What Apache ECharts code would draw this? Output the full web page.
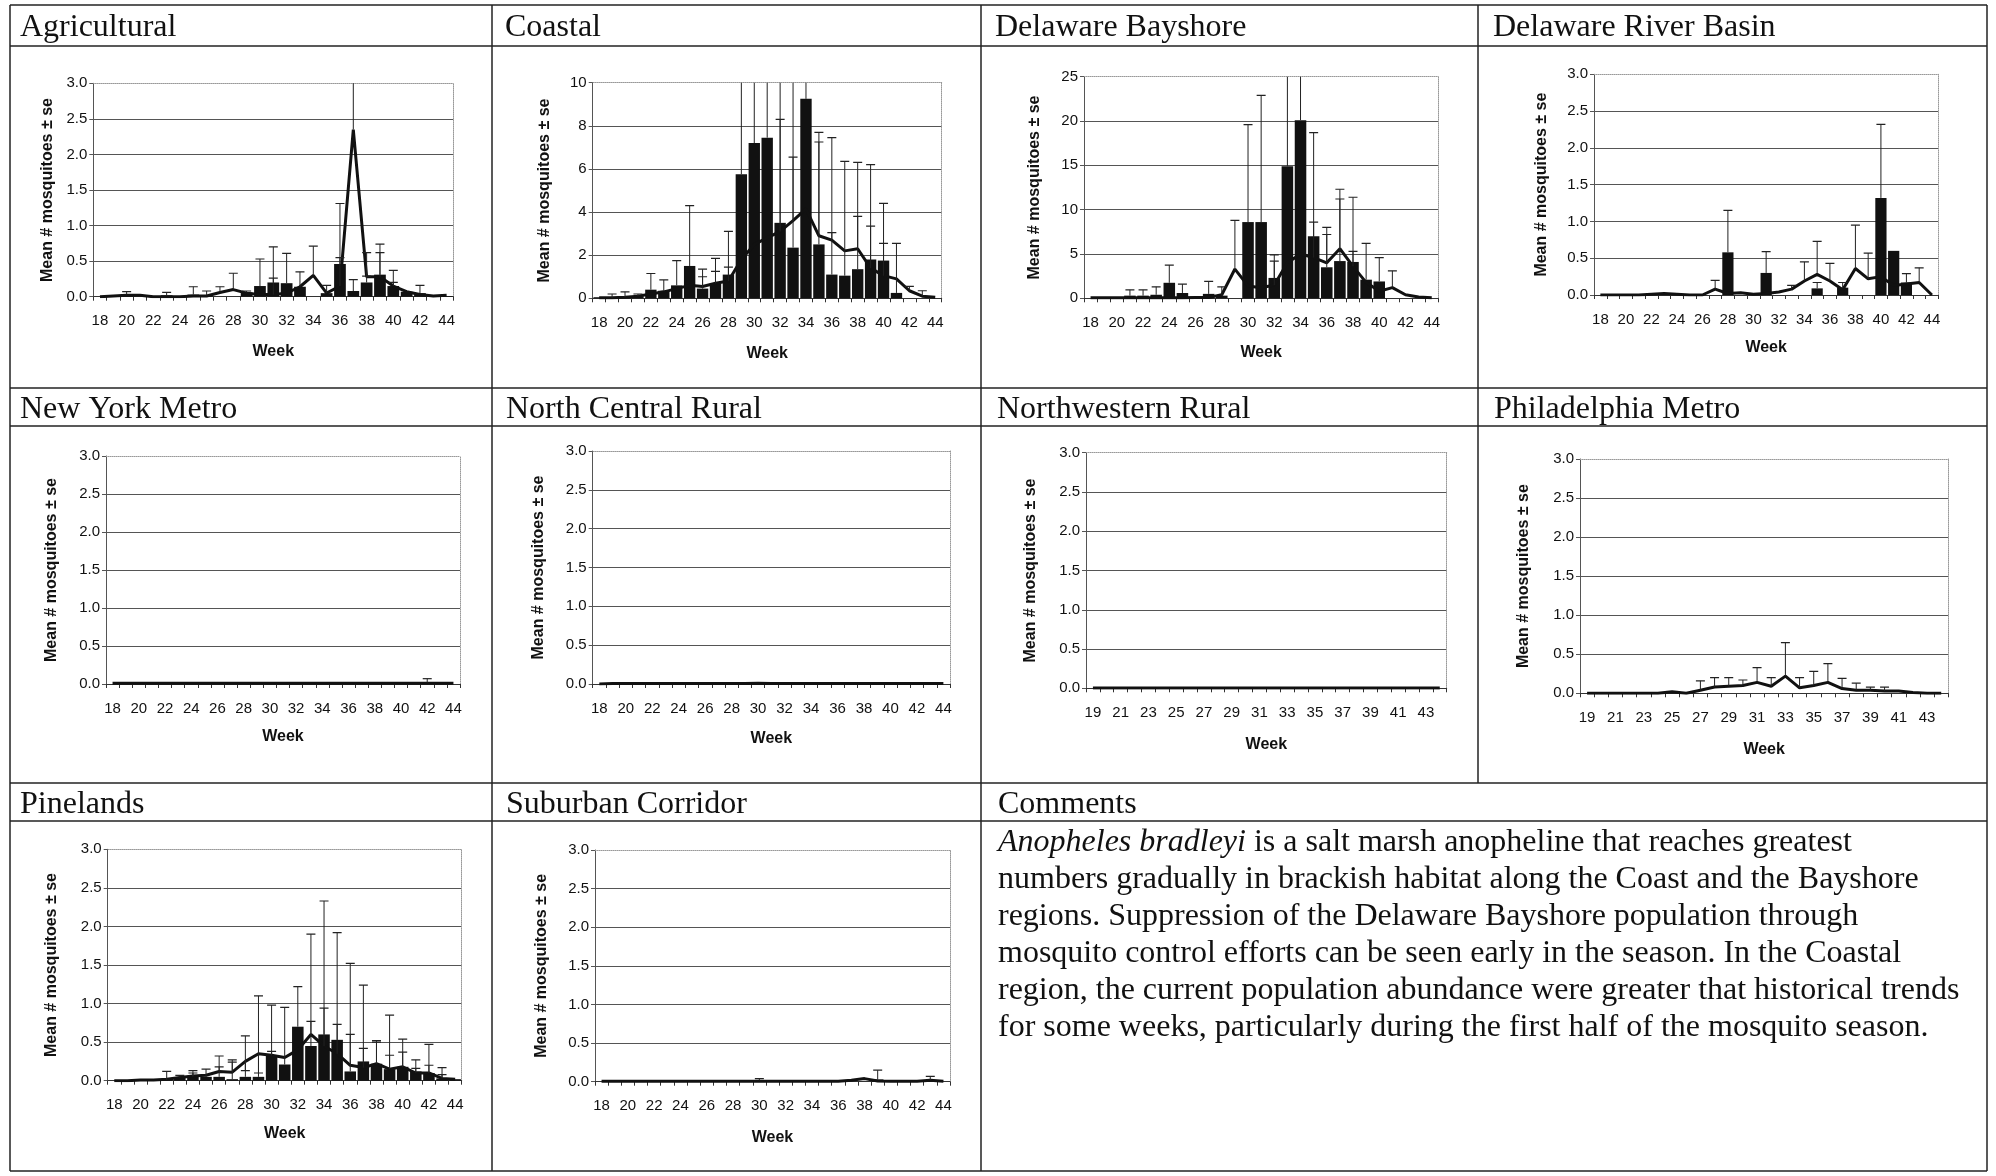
<!DOCTYPE html>
<html><head><meta charset="utf-8">
<script src="https://cdn.jsdelivr.net/npm/echarts@6/dist/echarts.min.js"></script>
<style>html,body{margin:0;padding:0;background:#fff}#c{width:1996px;height:1176px}</style>
</head><body><div id="c"></div><script>
// ---------- categories ----------
const weeks18 = ['18','19','20','21','22','23','24','25','26','27','28','29','30','31','32','33','34','35','36','37','38','39','40','41','42','43','44'];
const weeks19 = ['19','20','21','22','23','24','25','26','27','28','29','30','31','32','33','34','35','36','37','38','39','40','41','42','43','44'];

// ---------- data (bar = current year mean, barHi = mean+se; line = historical mean, lineHi = mean+se) ----------
const agriBar    = [0,0,0.03,0,0,0.02,0,0.03,0.02,0,0,0.06,0.15,0.2,0.19,0.14,0,0.05,0.46,0.08,0.2,0.31,0.15,0.07,0.05,0,0.01];
const agriBarHi  = [null,null,0.07,null,null,0.06,null,0.14,0.08,null,null,0.08,0.53,0.7,0.61,0.35,null,0.16,1.31,0.24,0.29,0.74,0.37,null,0.16,null,null];
const agriLine   = [0,0.01,0.02,0.02,0,0,0,0.01,0.01,0.06,0.1,0.05,0.03,0.03,0.05,0.14,0.3,0.05,0.15,2.35,0.28,0.28,0.15,0.07,0.03,0.01,0.02];
const agriLineHi = [null,null,null,null,null,null,null,null,null,0.14,0.33,null,null,0.26,null,null,0.71,null,0.55,4.5,0.62,0.62,0.2,null,null,null,null];

const coastBar    = [0.05,0,0.05,0.1,0.4,0.35,0.6,1.5,0.45,0.7,1.1,5.75,7.2,7.45,3.5,2.35,9.25,2.5,1.1,1.05,1.35,1.8,1.75,0.25,0,0,0];
const coastBarHi  = [null,0.2,0.3,0.2,1.15,0.85,1.75,4.3,1.35,1.85,3.1,12,12,12,12,12,12,7.7,7.45,6.35,6.3,6.2,4.4,2.55,null,null,null];
const coastLine   = [0.02,0.03,0.05,0.1,0.2,0.3,0.45,0.6,0.55,0.7,0.8,1.8,2.5,2.8,3.1,3.6,4.15,2.9,2.7,2.2,2.3,1.4,1.05,0.9,0.35,0.1,0.05];
const coastLineHi = [null,null,null,null,null,null,null,null,1.0,1.25,1.45,null,null,null,8.3,6.55,null,7.25,3.05,null,3.8,3.35,2.55,null,0.55,0.35,null];

const bayBar    = [0,0,0,0.3,0.3,0.4,1.75,0.6,0.2,0.5,0.3,0,8.6,8.6,2.3,14.9,20.1,7.0,3.5,4.2,4.1,2.1,1.9,0,0,0,0];
const bayBarHi  = [null,null,null,0.95,0.95,1.3,3.75,1.6,null,1.9,1.3,null,19.6,22.9,4.9,30,30,18.7,8.0,12.3,11.4,6.2,4.6,null,null,null,null];
const bayLine   = [0.05,0.05,0.05,0.05,0.05,0.05,0.05,0.05,0.1,0.1,0.4,3.3,1.4,1.2,1.5,4.0,5.0,4.6,4.0,5.6,3.6,1.8,0.8,1.2,0.4,0.15,0.05];
const bayLineHi = [null,null,null,null,null,null,null,null,null,null,null,8.8,null,null,4.2,null,null,8.6,7.2,11.2,5.3,null,null,3.1,null,null,null];

const drbBar    = [0,0,0,0,0,0,0,0,0,0,0.58,0,0,0.3,0,0,0,0.09,0,0.1,0,0,1.32,0.6,0.17,0,0];
const drbBarHi  = [null,null,null,null,null,null,null,null,null,null,1.15,null,null,0.59,null,null,null,0.17,null,0.17,null,null,2.32,null,0.29,null,null];
const drbLine   = [0,0,0,0,0.01,0.02,0.01,0,0,0.08,0.02,0.03,0.01,0.02,0.04,0.08,0.19,0.28,0.19,0.07,0.36,0.22,0.25,0.13,0.15,0.17,0];
const drbLineHi = [null,null,null,null,null,null,null,null,null,0.2,null,null,null,null,null,0.13,0.45,0.73,0.43,null,0.95,0.57,null,null,null,0.37,null];

const nyBar    = [0,0,0,0,0,0,0,0,0,0,0,0,0.02,0,0,0,0,0,0,0,0,0,0,0,0.02,0,0];
const nyBarHi  = [null,null,null,null,null,null,null,null,null,null,null,null,null,null,null,null,null,null,null,null,null,null,null,null,0.07,null,null];
const nyLine   = [0.01,0.01,0.01,0.01,0.01,0.01,0.01,0.01,0.01,0.01,0.01,0.01,0.01,0.01,0.01,0.01,0.01,0.01,0.01,0.01,0.01,0.01,0.01,0.01,0.01,0.01,0.01];
const nyLineHi = [];

const ncrBar    = [0,0,0,0,0,0,0,0,0,0,0,0,0.02,0,0,0,0,0,0,0,0,0,0,0,0,0,0];
const ncrBarHi  = [];
const ncrLine   = [0,0.005,0.005,0.005,0.005,0.005,0.005,0.005,0.005,0.005,0.005,0.005,0.01,0.005,0.005,0.005,0.005,0.005,0.005,0.005,0.005,0.005,0.005,0.005,0.005,0.005,0.005];
const ncrLineHi = [];

const nwrBar    = [0,0,0,0,0,0,0,0,0,0,0,0,0,0,0,0,0,0,0,0,0,0,0,0,0,0];
const nwrBarHi  = [];
const nwrLine   = [0.005,0.005,0.005,0.005,0.005,0.005,0.005,0.005,0.005,0.005,0.005,0.005,0.005,0.005,0.005,0.005,0.005,0.005,0.005,0.005,0.005,0.005,0.005,0.005,0.005,0.005];
const nwrLineHi = [];

const phlBar    = [0,0,0,0,0,0,0.03,0,0,0,0,0,0,0,0,0,0,0,0,0,0,0,0,0,0,0];
const phlBarHi  = [];
const phlLine   = [0,0,0,0,0,0,0.02,0,0.04,0.08,0.09,0.1,0.14,0.09,0.22,0.07,0.1,0.14,0.06,0.04,0.04,0.03,0.03,0.01,0,0];
const phlLineHi = [null,null,null,null,null,null,null,null,0.16,0.2,0.2,0.17,0.33,0.2,0.65,0.2,0.28,0.38,0.19,0.13,0.08,0.08,null,null,null,null];

const pineBar    = [0,0,0.02,0,0.01,0.04,0.05,0.05,0.05,0.02,0.05,0.05,0.33,0.21,0.7,0.45,0.6,0.53,0.12,0.25,0.22,0.15,0.18,0.12,0.1,0.03,0.02];
const pineBarHi  = [null,null,null,null,0.12,0.07,0.13,0.15,0.32,0.27,0.58,1.1,0.98,0.95,1.22,1.9,2.33,1.92,1.52,1.24,0.52,0.85,0.54,0.27,0.47,0.17,null];
const pineLine   = [0,0,0.01,0.01,0.02,0.04,0.06,0.07,0.12,0.11,0.25,0.35,0.33,0.3,0.4,0.6,0.45,0.35,0.2,0.17,0.22,0.15,0.18,0.1,0.1,0.03,0.02];
const pineLineHi = [null,null,null,null,null,null,0.1,null,0.18,0.24,0.13,0.1,0.38,null,null,0.77,0.94,0.73,0.6,0.42,0.5,0.33,0.37,0.16,0.2,0.08,null];

const subBar    = [0,0,0,0,0,0,0,0,0,0,0,0,0.02,0,0,0,0,0,0,0,0,0.03,0,0,0,0.02,0];
const subBarHi  = [null,null,null,null,null,null,null,null,null,null,null,null,0.04,null,null,null,null,null,null,null,null,0.15,null,null,null,0.07,null];
const subLine   = [0.005,0.005,0.005,0.005,0.005,0.005,0.005,0.005,0.005,0.005,0.005,0.005,0.005,0.005,0.005,0.005,0.005,0.005,0.005,0.02,0.04,0.01,0.005,0.005,0.005,0.02,0.005];
const subLineHi = [];

const commentLines = [
  '{i|Anopheles bradleyi} is a salt marsh anopheline that reaches greatest',
  'numbers gradually in brackish habitat along the Coast and the Bayshore',
  'regions. Suppression of the Delaware Bayshore population through',
  'mosquito control efforts can be seen early in the season. In the Coastal',
  'region, the current population abundance were greater that historical trends',
  'for some weeks, particularly during the first half of the mosquito season.'
];

// ---------- layout ----------
const panels = [
  {title:'Agricultural',          weeks:weeks18, bar:agriBar,  barHi:agriBarHi,  line:agriLine,  lineHi:agriLineHi,  yMax:3,  yStep:0.5, dec:1, grid:[93.3,83.3,360,213.4],   yGap:38, wGap:47, tx:20,   ty:28},
  {title:'Coastal',               weeks:weeks18, bar:coastBar, barHi:coastBarHi, line:coastLine, lineHi:coastLineHi, yMax:10, yStep:2,   dec:0, grid:[592.7,82.7,349,215.6],  yGap:40, wGap:47, tx:505,  ty:28},
  {title:'Delaware Bayshore',     weeks:weeks18, bar:bayBar,   barHi:bayBarHi,   line:bayLine,   lineHi:bayLineHi,   yMax:25, yStep:5,   dec:0, grid:[1084,76.7,354.3,221.6], yGap:41, wGap:46, tx:995,  ty:28},
  {title:'Delaware River Basin',  weeks:weeks18, bar:drbBar,   barHi:drbBarHi,   line:drbLine,   lineHi:drbLineHi,   yMax:3,  yStep:0.5, dec:1, grid:[1594,74.3,344.3,220.7], yGap:44, wGap:45, tx:1493, ty:28},
  {title:'New York Metro',        weeks:weeks18, bar:nyBar,    barHi:nyBarHi,    line:nyLine,    lineHi:nyLineHi,    yMax:3,  yStep:0.5, dec:1, grid:[106,456,354,228],       yGap:46, wGap:45, tx:20,   ty:410},
  {title:'North Central Rural',   weeks:weeks18, bar:ncrBar,   barHi:ncrBarHi,   line:ncrLine,   lineHi:ncrLineHi,   yMax:3,  yStep:0.5, dec:1, grid:[592.7,451,357.3,233],   yGap:46, wGap:47, tx:506,  ty:410},
  {title:'Northwestern Rural',    weeks:weeks19, bar:nwrBar,   barHi:nwrBarHi,   line:nwrLine,   lineHi:nwrLineHi,   yMax:3,  yStep:0.5, dec:1, grid:[1086,452.7,360.7,235.6],yGap:47, wGap:48, tx:997,  ty:410},
  {title:'Philadelphia Metro',    weeks:weeks19, bar:phlBar,   barHi:phlBarHi,   line:phlLine,   lineHi:phlLineHi,   yMax:3,  yStep:0.5, dec:1, grid:[1580,459,368.3,234.3],  yGap:48, wGap:48, tx:1494, ty:410},
  {title:'Pinelands',             weeks:weeks18, bar:pineBar,  barHi:pineBarHi,  line:pineLine,  lineHi:pineLineHi,  yMax:3,  yStep:0.5, dec:1, grid:[107.7,849.3,354,231.4], yGap:48, wGap:45, tx:20,   ty:805},
  {title:'Suburban Corridor',     weeks:weeks18, bar:subBar,   barHi:subBarHi,   line:subLine,   lineHi:subLineHi,   yMax:3,  yStep:0.5, dec:1, grid:[595,850,355,231.7],     yGap:45, wGap:48, tx:506,  ty:805}
];

const SANS = '"Liberation Sans", Arial, sans-serif';
const SERIF = '"Liberation Serif", "Times New Roman", serif';
const INK = '#111';

function errPairs(vals, his) {
  const out = [];
  (his || []).forEach((h, i) => { if (h != null) out.push([i, vals[i], h]); });
  return out;
}
function errRender(params, api) {
  const x = api.value(0), lo = api.value(1), hi = api.value(2);
  const p0 = api.coord([x, lo]), p1 = api.coord([x, hi]);
  const hw = 4.5;
  return {type:'group', children:[
    {type:'line', shape:{x1:p0[0], y1:p0[1], x2:p1[0], y2:p1[1]}, style:{stroke:'#222', lineWidth:1}},
    {type:'line', shape:{x1:p1[0]-hw, y1:p1[1], x2:p1[0]+hw, y2:p1[1]}, style:{stroke:'#222', lineWidth:1.2}}
  ]};
}

const grids = [], xAxes = [], yAxes = [], series = [];
panels.forEach((p, i) => {
  grids.push({left:p.grid[0], top:p.grid[1], width:p.grid[2], height:p.grid[3], containLabel:false});
  xAxes.push({
    gridIndex:i, type:'category', data:p.weeks, boundaryGap:true, position:'bottom',
    axisLine:{show:true, onZero:false, lineStyle:{color:'#333', width:1}},
    axisTick:{show:true, interval:0, length:4, lineStyle:{color:'#333'}},
    axisLabel:{interval:1, margin:17, fontSize:15, color:INK, fontFamily:SANS},
    splitLine:{show:false},
    name:'Week', nameLocation:'middle', nameGap:p.wGap,
    nameTextStyle:{fontWeight:'bold', fontSize:16, color:INK, fontFamily:SANS}
  });
  yAxes.push({
    gridIndex:i, type:'value', min:0, max:p.yMax, interval:p.yStep, position:'left',
    axisLine:{show:true, onZero:false, lineStyle:{color:'#555', width:1}},
    axisTick:{show:true, length:4, lineStyle:{color:'#555'}},
    axisLabel:{margin:6, fontSize:15, color:INK, fontFamily:SANS, formatter:(v)=>v.toFixed(p.dec)},
    splitLine:{show:true, showMaxLine:false, lineStyle:{color:'#555', width:1}},
    name:'Mean # mosquitoes \u00b1 se', nameLocation:'middle', nameGap:p.yGap, nameRotate:90,
    nameTextStyle:{fontWeight:'bold', fontSize:16, color:INK, fontFamily:SANS}
  });
  series.push({type:'bar', xAxisIndex:i, yAxisIndex:i, data:p.bar, barCategoryGap:'12%',
    itemStyle:{color:INK}, z:2, silent:true});
  series.push({type:'line', xAxisIndex:i, yAxisIndex:i, data:p.line, symbol:'none',
    lineStyle:{color:INK, width:3}, z:3, silent:true});
  series.push({type:'custom', xAxisIndex:i, yAxisIndex:i, data:errPairs(p.bar, p.barHi),
    renderItem:errRender, clip:true, z:4, silent:true});
  series.push({type:'custom', xAxisIndex:i, yAxisIndex:i, data:errPairs(p.line, p.lineHi),
    renderItem:errRender, clip:true, z:4, silent:true});
});
// dotted plot-area border (top and right)
panels.forEach((p, i) => {
  xAxes.push({gridIndex:i, type:'category', data:p.weeks, position:'top',
    axisLine:{show:true, onZero:false, lineStyle:{color:'#999', type:'dotted', width:1}},
    axisTick:{show:false}, axisLabel:{show:false}, splitLine:{show:false}});
  yAxes.push({gridIndex:i, type:'value', min:0, max:p.yMax, position:'right',
    axisLine:{show:true, onZero:false, lineStyle:{color:'#999', type:'dotted', width:1}},
    axisTick:{show:false}, axisLabel:{show:false}, splitLine:{show:false}});
});

// table frame
const colX = [10, 492, 981, 1478, 1987];
const rowY = [5, 46, 388, 426, 783, 821, 1171];
const graphic = [];
const ln = (x1,y1,x2,y2) => graphic.push({type:'line', shape:{x1,y1,x2,y2}, style:{stroke:'#222', lineWidth:1.5}, silent:true});
rowY.forEach(y => ln(colX[0], y, colX[4], y));
ln(colX[0], rowY[0], colX[0], rowY[6]);
ln(colX[1], rowY[0], colX[1], rowY[6]);
ln(colX[2], rowY[0], colX[2], rowY[6]);
ln(colX[3], rowY[0], colX[3], rowY[4]);
ln(colX[4], rowY[0], colX[4], rowY[6]);

panels.forEach(p => graphic.push({type:'text', x:p.tx, y:p.ty, silent:true,
  style:{text:p.title, fontSize:32, fontFamily:SERIF, fill:INK, textVerticalAlign:'middle', verticalAlign:'middle'}}));
graphic.push({type:'text', x:998, y:805, silent:true,
  style:{text:'Comments', fontSize:32, fontFamily:SERIF, fill:INK, textVerticalAlign:'middle', verticalAlign:'middle'}});
graphic.push({type:'text', x:998, y:824, silent:true,
  style:{text:commentLines.join('\n'), fontSize:32, fontFamily:SERIF, fill:INK, lineHeight:37,
    rich:{i:{fontStyle:'italic', fontSize:32, fontFamily:SERIF, fill:INK, lineHeight:37}}}});

const chart = echarts.init(document.getElementById('c'), null, {renderer:'canvas'});
chart.setOption({
  animation:false, backgroundColor:'#fff',
  grid:grids, xAxis:xAxes, yAxis:yAxes, series:series, graphic:graphic
});
</script></body></html>
